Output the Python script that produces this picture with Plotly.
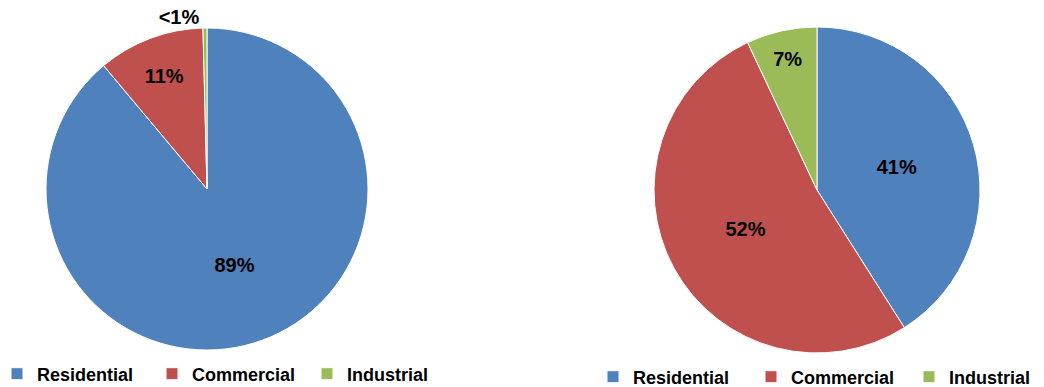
import plotly.graph_objects as go

categories = ["Residential", "Commercial", "Industrial"]
left_values = [88.9, 10.7, 0.4]
left_text = ["89%", "11%", "<1%"]
right_values = [41, 52, 7]
right_text = ["41%", "52%", "7%"]
colors = ["#4F81BD", "#C0504D", "#9BBB59"]

# page body has an 8px margin, so the figure is slightly smaller than the window
W, H = 1036, 379
FONT = "Liberation Sans, Arial, sans-serif"

# the right pie needs its own legend entries: a zero-width space keeps the
# labels visually identical while keeping them distinct from the left pie's
right_labels = [c + "\u200b" for c in categories]

fig = go.Figure()
fig.add_trace(go.Pie(
    labels=categories, values=left_values, text=left_text, textinfo="text",
    sort=False, direction="clockwise", rotation=0,
    marker=dict(colors=colors, line=dict(color="white", width=1)),
    textposition=["inside", "inside", "outside"],
    insidetextorientation="horizontal",
    textfont=dict(family=FONT, size=20, color="black", weight="bold"),
    domain=dict(x=[38/W, 360/W], y=[(H-342)/H, (H-20)/H]),
    legend="legend", hoverinfo="label+text",
))
fig.add_trace(go.Pie(
    labels=right_labels, values=right_values, text=right_text, textinfo="text",
    sort=False, direction="clockwise", rotation=0,
    marker=dict(colors=colors, line=dict(color="white", width=1)),
    textposition="inside",
    insidetextorientation="horizontal",
    textfont=dict(family=FONT, size=20, color="black", weight="bold"),
    domain=dict(x=[646/W, 972/W], y=[(H-345)/H, (H-19)/H]),
    legend="legend2", hoverinfo="label+text",
))

legend_common = dict(
    orientation="h", font=dict(family=FONT, size=18, color="black", weight="bold"),
    yanchor="middle", xanchor="left", entrywidthmode="pixels",
    bgcolor="rgba(0,0,0,0)", tracegroupgap=0,
)
fig.update_layout(
    width=W, height=H,
    margin=dict(l=0, r=0, t=0, b=0, autoexpand=False),
    paper_bgcolor="white", plot_bgcolor="white",
    showlegend=True,
    legend=dict(x=-11/W, y=(H-366)/H, entrywidth=110, **legend_common),
    legend2=dict(x=585/W, y=(H-369)/H, entrywidth=113, **legend_common),
)
fig.write_html("out.html")
